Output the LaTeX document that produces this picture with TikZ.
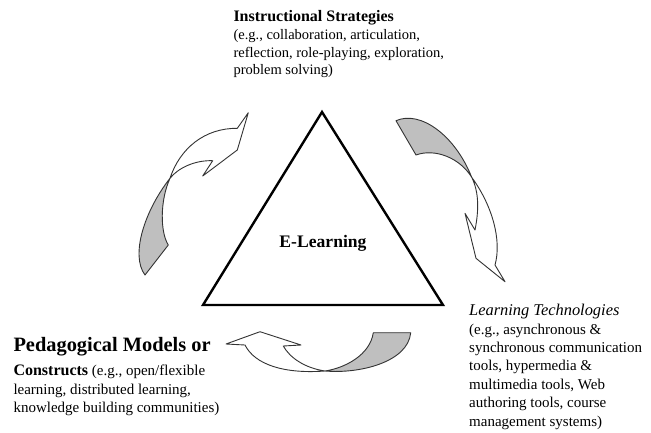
\documentclass[tikz,border=0pt]{standalone}
\usepackage{fontspec}
\setmainfont{Liberation Serif}
\begin{document}
\begin{tikzpicture}[x=1pt,y=-1pt,
  txt/.style={inner sep=0pt,anchor=base west},
  bodytop/.style={txt,font=\fontsize{14.5}{17}\selectfont},
  bodyside/.style={txt,font=\fontsize{15}{18}\selectfont},
  tri/.style={line width=2.4pt,line join=miter},
  arrw/.style={draw=black!80,line width=0.9pt,fill=white,line join=round},
  arrg/.style={draw=black!80,line width=0.9pt,fill=black!25,line join=round}]
\useasboundingbox (0,0) rectangle (651,432);
\fill[white] (0,0) rectangle (651,432);

% triangle
\coordinate (T1) at (322,112);
\coordinate (T2) at (203,305);
\coordinate (T3) at (443,305);
\draw[tri] (T1) -- (T2) -- (T3) -- cycle;
\node[inner sep=0pt,font=\fontsize{17.6}{20}\selectfont\bfseries] (el) at (323,243) {E-Learning};

% left curved arrow
\coordinate (C1) at (170,178.3);
\path[arrg] (C1) .. controls (145,210) and (130,255) .. (145,275) -- (168.3,245)
  .. controls (160,232) and (160,200) .. (C1) -- cycle;
\path[arrw] (C1) .. controls (180,148) and (205,128) .. (237.3,128.3)
  -- (248.3,112.7) -- (237.3,150) -- (202.7,176) -- (212.7,160.7)
  .. controls (195,160) and (178,168) .. (C1) -- cycle;

% right curved arrow
\coordinate (C2) at (471.7,177.3);
\path[arrg] (396,120.7) .. controls (420,110) and (455,135) .. (C2)
  .. controls (460,158) and (435,148) .. (416,155) -- cycle;
\path[arrw] (C2) .. controls (492,205) and (502,240) .. (495,265)
  -- (505,281.7) -- (476,258.3) -- (465,213.3) -- (475,230)
  .. controls (479,210) and (479,192) .. (C2) -- cycle;

% bottom curved arrow
\coordinate (C3) at (325,371);
\path[arrg] (373.3,332.7) -- (410.7,332.7) .. controls (408,362) and (360,374) .. (C3)
  .. controls (345,368) and (370,355) .. (373.3,332.7) -- cycle;
\path[arrw] (C3) .. controls (285,374) and (255,365) .. (245,345)
  -- (226,344) -- (260,331.7) -- (301,345) -- (283.3,346)
  .. controls (290,358) and (305,368) .. (C3) -- cycle;

% top text
\node[txt,font=\fontsize{16}{18}\selectfont\bfseries] (is) at (233.3,21.7) {Instructional Strategies};
\node[bodytop] (is1) at (233.3,39.5) {(e.g., collaboration, articulation,};
\node[bodytop] (is2) at (233.3,57) {reflection, role-playing, exploration,};
\node[bodytop] (is3) at (233.3,74.5) {problem solving)};

% right text
\node[txt,font=\fontsize{16.4}{18}\selectfont\itshape] (lt) at (469,315.3) {Learning Technologies};
\node[bodyside] (lt1) at (469,334) {(e.g., asynchronous \&};
\node[bodyside] (lt2) at (469,352) {synchronous communication};
\node[bodyside] (lt3) at (469,370.5) {tools, hypermedia \&};
\node[bodyside] (lt4) at (469,389) {multimedia tools, Web};
\node[bodyside] (lt5) at (469,407.5) {authoring tools, course};
\node[bodyside] (lt6) at (469,426) {management systems)};

% left text
\node[txt,font=\fontsize{20.4}{22}\selectfont\bfseries] (pm) at (13.3,351) {Pedagogical Models or};
\node[bodyside] (pm1) at (13.3,375.5) {{\fontsize{16}{18}\selectfont\bfseries Constructs} (e.g., open/flexible};
\node[bodyside] (pm2) at (13.3,394) {learning, distributed learning,};
\node[bodyside] (pm3) at (13.3,412) {knowledge building communities)};
\end{tikzpicture}
\end{document}
